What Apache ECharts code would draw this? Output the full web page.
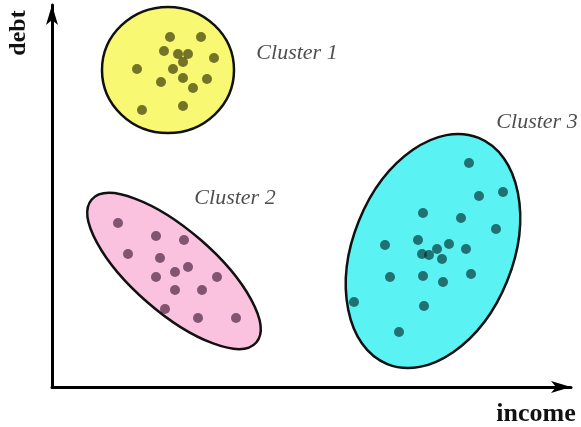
<!DOCTYPE html>
<html>
<head>
<meta charset="utf-8">
<script src="https://cdn.jsdelivr.net/npm/echarts@6/dist/echarts.min.js"></script>
<style>
  html, body { margin: 0; padding: 0; background: #fff; }
  #chart { width: 581px; height: 427px; }
</style>
</head>
<body>
<div id="chart"></div>
<script>
// cluster outlines: centre, semi axes, tilt (degrees)
var clusterNames = ['Cluster 1', 'Cluster 2', 'Cluster 3'];
var clusterCx = [116, 122, 381];
var clusterCy = [317, 116, 136];
var clusterA = [66, 109, 122];
var clusterB = [63, 41, 80];
var clusterTilt = [0, -41, 68];
var labelPos = [[245, 334], [183, 189], [485, 265]];

// points (income, debt)
var cluster1 = [[118,350],[149,350],[112,336],[126,333],[136,333],[131,325],[162,329],[85,318],
  [121,318],[109,305],[131,309],[155,308],[141,299],[90,277],[131,281]];
var cluster2 = [[66,164],[104,151],[132,147],[76,133],[108,129],[123,115],[136,120],[104,110],
  [165,110],[123,97],[150,97],[113,78],[146,69],[184,69]];
var cluster3 = [[417,224],[427,191],[451,195],[371,174],[409,169],[444,158],[366,147],[397,143],
  [333,142],[414,138],[385,138],[370,133],[377,132],[390,128],[338,110],[371,111],[391,105],
  [419,113],[302,85],[372,81],[347,55]];

var fills = ['#f8f872', '#fbc2e0', '#5af2f2'];

var chart = echarts.init(document.getElementById('chart'));

var ellipseData = clusterNames.map(function (n, i) {
  return [clusterCx[i], clusterCy[i], clusterA[i], clusterB[i], clusterTilt[i], i];
});

var option = {
  animation: false,
  grid: { left: 52, right: 10, top: 5, bottom: 40 },
  xAxis: {
    type: 'value', min: 0, max: 519,
    axisLine: { show: true, symbol: ['none', 'arrow'], symbolSize: [9, 20],
      lineStyle: { color: '#000', width: 3 } },
    axisTick: { show: false }, axisLabel: { show: false }, splitLine: { show: false }
  },
  yAxis: {
    type: 'value', min: 0, max: 382,
    axisLine: { show: true, symbol: ['none', 'arrow'], symbolSize: [9, 20],
      lineStyle: { color: '#000', width: 3 } },
    axisTick: { show: false }, axisLabel: { show: false }, splitLine: { show: false }
  },
  graphic: [
    { type: 'text', x: 19, y: 33, rotation: Math.PI / 2,
      style: { text: 'debt', font: 'bold 24px "Liberation Serif"', fill: '#111',
        textAlign: 'center', textVerticalAlign: 'middle' } },
    { type: 'text', x: 536, y: 414,
      style: { text: 'income', font: 'bold 26px "Liberation Serif"', fill: '#111',
        textAlign: 'center', textVerticalAlign: 'middle' } }
  ],
  series: [
    {
      type: 'custom',
      renderItem: function (params, api) {
        var c = api.coord([api.value(0), api.value(1)]);
        var s = api.size([api.value(2), api.value(3)]);
        var i = api.value(5);
        return {
          type: 'ellipse',
          x: c[0], y: c[1],
          rotation: api.value(4) * Math.PI / 180,
          shape: { cx: 0, cy: 0, rx: s[0], ry: s[1] },
          style: { fill: fills[i], stroke: '#111', lineWidth: 2.5 }
        };
      },
      data: ellipseData,
      z: 1
    },
    { type: 'scatter', data: cluster1, symbolSize: 10,
      itemStyle: { color: 'rgba(40,40,0,0.8)' }, z: 3 },
    { type: 'scatter', data: cluster2, symbolSize: 10,
      itemStyle: { color: 'rgba(50,10,40,0.75)' }, z: 3 },
    { type: 'scatter', data: cluster3, symbolSize: 10,
      itemStyle: { color: 'rgba(0,40,40,0.8)' }, z: 3 },
    {
      type: 'scatter', symbolSize: 0,
      data: labelPos.map(function (p, i) { return { value: p, name: clusterNames[i] }; }),
      label: { show: true, position: 'inside', formatter: '{b}',
        fontFamily: 'Liberation Serif', fontStyle: 'italic', fontSize: 22, color: '#222' },
      z: 4
    }
  ]
};
chart.setOption(option);
</script>
</body>
</html>
